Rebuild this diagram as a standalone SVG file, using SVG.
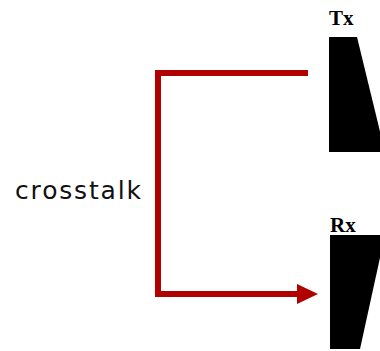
<svg xmlns="http://www.w3.org/2000/svg" width="380" height="351" viewBox="0 0 380 351">
  <style>
    .lbl { font-family: "Liberation Serif", "Times New Roman", serif; font-weight: bold; font-size: 21px; fill: #000; }
    .note { font-family: "DejaVu Sans", Verdana, sans-serif; font-size: 25px; fill: #111; }
    .block { fill: #000; }
    .wire { fill: none; stroke: #b00000; stroke-width: 6; stroke-linejoin: miter; }
  </style>
  <defs>
    <marker id="arrow" markerUnits="userSpaceOnUse" markerWidth="22" markerHeight="22" refX="3" refY="11" orient="auto">
      <path d="M0,1 L21,11 L0,21 Z" fill="#b00000"/>
    </marker>
  </defs>
  <rect width="380" height="351" fill="#fff"/>

  <g id="tx">
    <text class="lbl" x="329" y="25">Tx</text>
    <polygon class="block" points="329,37 357,37 385,152 329,152"/>
  </g>

  <g id="rx">
    <text class="lbl" x="330" y="232">Rx</text>
    <polygon class="block" points="330,235 385,235 360,349 330,349"/>
  </g>

  <g id="crosstalk-label">
    <text class="note" x="15" y="199" textLength="126" lengthAdjust="spacing">crosstalk</text>
  </g>

  <g id="connectors">
    <path class="wire" d="M308,73 H158 V294 H300" marker-end="url(#arrow)"/>
  </g>
</svg>
